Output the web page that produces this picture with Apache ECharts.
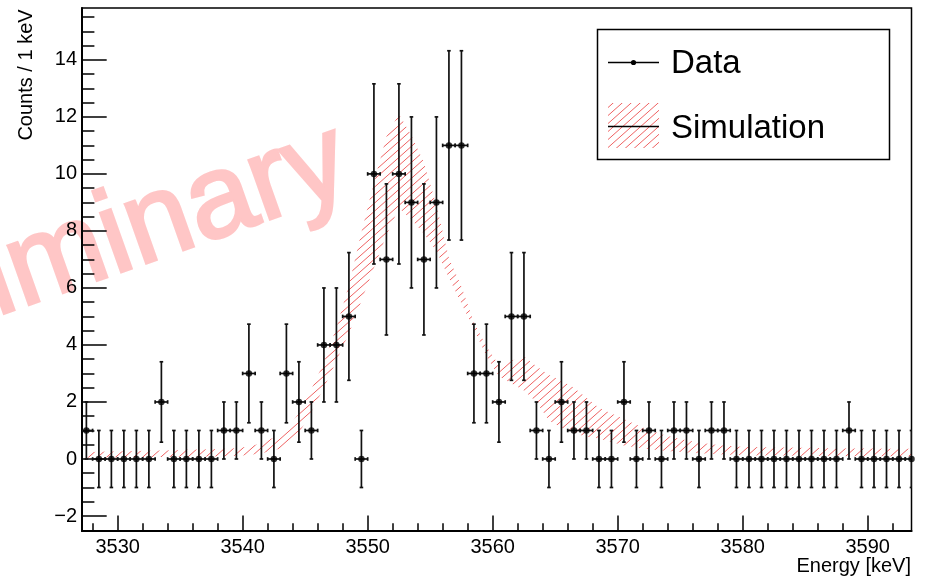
<!DOCTYPE html>
<html><head><meta charset="utf-8">
<script src="https://cdn.jsdelivr.net/npm/echarts@6/dist/echarts.min.js"></script>
<style>html,body{margin:0;padding:0;background:#fff}#c{width:926px;height:577px}</style>
</head><body><div id="c"></div>
<script>
// ---------------- data ----------------
const binCenters = [3527.5,3528.5,3529.5,3530.5,3531.5,3532.5,3533.5,3534.5,3535.5,3536.5,
  3537.5,3538.5,3539.5,3540.5,3541.5,3542.5,3543.5,3544.5,3545.5,3546.5,
  3547.5,3548.5,3549.5,3550.5,3551.5,3552.5,3553.5,3554.5,3555.5,3556.5,
  3557.5,3558.5,3559.5,3560.5,3561.5,3562.5,3563.5,3564.5,3565.5,3566.5,
  3567.5,3568.5,3569.5,3570.5,3571.5,3572.5,3573.5,3574.5,3575.5,3576.5,
  3577.5,3578.5,3579.5,3580.5,3581.5,3582.5,3583.5,3584.5,3585.5,3586.5,
  3587.5,3588.5,3589.5,3590.5,3591.5,3592.5,3593.5];
const counts = [1,0,0,0,0,0,2,0,0,0,
  0,1,1,3,1,0,3,2,1,4,
  4,5,0,10,7,10,9,7,9,11,
  11,3,3,2,5,5,1,0,2,1,
  1,0,0,2,0,1,0,1,1,0,
  1,1,0,0,0,0,0,0,0,0,
  0,1,0,0,0,0,0];
const countErrors = [1,1,1,1,1,1,1.41,1,1,1,
  1,1,1,1.73,1,1,1.73,1.41,1,2,
  2,2.24,1,3.16,2.65,3.16,3,2.65,3,3.32,
  3.32,1.73,1.73,1.41,2.24,2.24,1,1,1.41,1,
  1,1,1,1.41,1,1,1,1,1,1,
  1,1,1,1,1,1,1,1,1,1,
  1,1,1,1,1,1,1];
const simLow = [0.04,0.05,0.05,0.06,0.06,0.07,0.07,0.08,0.08,0.09,
  0.09,0.10,0.11,0.14,0.20,0.30,0.45,0.90,1.65,2.50,
  3.45,4.40,5.55,6.70,7.85,8.80,8.40,7.90,7.30,6.35,
  5.45,4.55,3.60,2.90,2.65,2.40,2.00,1.35,1.10,0.90,
  0.78,0.72,0.60,0.47,0.40,0.35,0.30,0.26,0.23,0.20,
  0.18,0.16,0.14,0.13,0.12,0.12,0.12,0.11,0.11,0.11,
  0.11,0.10,0.10,0.10,0.10,0.10,0.10];
const simHigh = [0.24,0.25,0.26,0.27,0.28,0.29,0.30,0.31,0.32,0.33,
  0.34,0.36,0.38,0.44,0.55,0.75,1.05,1.60,2.45,3.40,
  4.60,6.10,7.95,9.70,11.30,12.10,11.35,10.40,8.90,7.05,
  6.05,4.80,3.95,3.30,3.45,3.60,3.25,2.95,2.75,2.50,
  2.15,1.80,1.60,1.40,1.20,1.02,0.87,0.75,0.66,0.58,
  0.52,0.47,0.44,0.42,0.41,0.40,0.40,0.39,0.39,0.38,
  0.38,0.37,0.37,0.37,0.36,0.36,0.36];
const xMajorTicks = [3530,3540,3550,3560,3570,3580,3590];
const yMajorTicks = [-2,0,2,4,6,8,10,12,14];
const legendLabels = ['Data','Simulation'];
const xTitle = 'Energy [keV]';
const yTitle = 'Counts / 1 keV';
const watermark = 'Preliminary';

// ---------------- helpers ----------------
const FONT = '"Liberation Sans", Arial, Helvetica, sans-serif';
const X_MIN = 3527.15, X_MAX = 3593.5, Y_MIN = -2.526, Y_MAX = 15.82;
const xMinorTicks = []; for (let v = 3528; v <= 3593; v += 2) xMinorTicks.push(v);
const yMinorTicks = []; for (let v = -2.5; v <= 15.5; v += 0.5) yMinorTicks.push(v);

function makeHatch(w, h, color, lw) {
  const cv = document.createElement('canvas'); cv.width = w; cv.height = h;
  const ctx = cv.getContext('2d');
  ctx.strokeStyle = color; ctx.lineWidth = lw;
  ctx.beginPath();
  for (const k of [-1, 0, 1]) {
    ctx.moveTo(k * w - 0.2 * w, h + 0.2 * h);
    ctx.lineTo(k * w + 1.2 * w, -0.2 * h);
  }
  ctx.stroke();
  return cv;
}
const hatchCanvas = makeHatch(9, 8, 'rgba(235,70,70,0.85)', 1);
const hatchFill = { image: hatchCanvas, repeat: 'repeat' };

const chart = echarts.init(document.getElementById('c'), null, { renderer: 'canvas' });

const axisLineX = { show: true, onZero: false, lineStyle: { color: '#000', width: 2 } };
const noLine = { show: false, onZero: false };

const option = {
  animation: false,
  backgroundColor: '#fff',
  grid: { left: 82, right: 14.5, top: 8, bottom: 46, show: true, borderColor: '#000', borderWidth: 1.5, backgroundColor: 'transparent' },
  xAxis: [
    { type: 'value', min: X_MIN, max: X_MAX, position: 'bottom',
      axisLine: axisLineX,
      splitLine: { show: false },
      axisTick: { show: true, inside: true, length: 15.5, customValues: xMajorTicks, lineStyle: { color: '#000', width: 1.5 } },
      axisLabel: { show: true, customValues: xMajorTicks, margin: 6, color: '#000', fontSize: 20, fontFamily: FONT,
        formatter: v => String(v) } },
    { type: 'value', min: X_MIN, max: X_MAX, position: 'bottom', gridIndex: 0,
      axisLine: noLine, splitLine: { show: false }, axisLabel: { show: false },
      axisTick: { show: true, inside: true, length: 7.8, customValues: xMinorTicks, lineStyle: { color: '#000', width: 1.5 } } }
  ],
  yAxis: [
    { type: 'value', min: Y_MIN, max: Y_MAX, position: 'left',
      axisLine: axisLineX,
      splitLine: { show: false },
      axisTick: { show: true, inside: true, length: 24.7, customValues: yMajorTicks, lineStyle: { color: '#000', width: 1.5 } },
      axisLabel: { show: true, customValues: yMajorTicks, margin: 5, color: '#000', fontSize: 20, fontFamily: FONT,
        formatter: v => (v < 0 ? '\u2212' + Math.abs(v) : String(v)) } },
    { type: 'value', min: Y_MIN, max: Y_MAX, position: 'left', gridIndex: 0,
      axisLine: noLine, splitLine: { show: false }, axisLabel: { show: false },
      axisTick: { show: true, inside: true, length: 12.4, customValues: yMinorTicks, lineStyle: { color: '#000', width: 1.5 } } }
  ],
  graphic: [
    { type: 'text', z: -10, x: 364, y: 214, rotation: 19.5 * Math.PI / 180,
      style: { text: watermark, fill: '#ffc6c6', stroke: '#ffc6c6', lineWidth: 3, font: '118px ' + FONT, textAlign: 'right', textVerticalAlign: 'bottom' } },
    { type: 'text', x: 26, y: 75, rotation: Math.PI / 2,
      style: { text: yTitle, fill: '#000', font: '20px ' + FONT, textAlign: 'center', textVerticalAlign: 'middle' } },
    { type: 'text', x: 911, y: 566,
      style: { text: xTitle, fill: '#000', font: '20px ' + FONT, textAlign: 'right', textVerticalAlign: 'middle' } },
    { type: 'group', z: 100, children: [
      { type: 'rect', shape: { x: 597.5, y: 29.5, width: 292, height: 130 }, style: { fill: '#fff', stroke: '#000', lineWidth: 1.5 } },
      { type: 'line', shape: { x1: 608, y1: 62.5, x2: 659, y2: 62.5 }, style: { stroke: '#000', lineWidth: 1.5 } },
      { type: 'circle', shape: { cx: 633.5, cy: 62.5, r: 2.6 }, style: { fill: '#000' } },
      { type: 'text', x: 671, y: 64, style: { text: legendLabels[0], fill: '#000', font: '33px ' + FONT, textVerticalAlign: 'middle' } },
      { type: 'rect', shape: { x: 608, y: 103, width: 51, height: 45 }, style: { fill: hatchFill, stroke: null } },
      { type: 'line', shape: { x1: 608, y1: 126.5, x2: 659, y2: 126.5 }, style: { stroke: '#000', lineWidth: 1.5 } },
      { type: 'text', x: 671, y: 129, style: { text: legendLabels[1], fill: '#000', font: '33px ' + FONT, textVerticalAlign: 'middle' } }
    ] }
  ],
  series: [
    { type: 'custom', name: 'Simulation', xAxisIndex: 0, yAxisIndex: 0, clip: true, z: 1,
      data: binCenters.map((x, i) => [x, simLow[i], simHigh[i]]),
      encode: { x: 0, y: [1, 2] },
      renderItem(params, api) {
        if (params.dataIndex !== 0) return null;
        const pts = [];
        for (let i = 0; i < binCenters.length; i++) pts.push(api.coord([binCenters[i], simHigh[i]]));
        for (let i = binCenters.length - 1; i >= 0; i--) pts.push(api.coord([binCenters[i], simLow[i]]));
        return { type: 'polygon', shape: { points: pts }, style: { fill: hatchFill, stroke: null } };
      } },
    { type: 'custom', name: 'Data', xAxisIndex: 0, yAxisIndex: 0, clip: true, z: 3,
      data: binCenters.map((x, i) => [x, counts[i], countErrors[i]]),
      encode: { x: 0, y: 1 },
      renderItem(params, api) {
        const x = api.value(0), y = api.value(1), e = api.value(2);
        const c = api.coord([x, y]);
        const t = api.coord([x, y + e]), b = api.coord([x, y - e]);
        const l = api.coord([x - 0.5, y]), r = api.coord([x + 0.5, y]);
        const cap = 1.8, st = { stroke: '#111', lineWidth: 1.7 };
        return { type: 'group', children: [
          { type: 'line', shape: { x1: c[0], y1: t[1], x2: c[0], y2: b[1] }, style: st },
          { type: 'line', shape: { x1: c[0] - cap, y1: t[1], x2: c[0] + cap, y2: t[1] }, style: st },
          { type: 'line', shape: { x1: c[0] - cap, y1: b[1], x2: c[0] + cap, y2: b[1] }, style: st },
          { type: 'line', shape: { x1: l[0], y1: c[1], x2: r[0], y2: c[1] }, style: st },
          { type: 'line', shape: { x1: l[0], y1: c[1] - cap, x2: l[0], y2: c[1] + cap }, style: st },
          { type: 'line', shape: { x1: r[0], y1: c[1] - cap, x2: r[0], y2: c[1] + cap }, style: st }
        ] };
      } },
    { type: 'scatter', name: 'Data markers', xAxisIndex: 0, yAxisIndex: 0, z: 4, clip: true,
      symbol: 'circle', symbolSize: 6.5, itemStyle: { color: '#000' },
      data: binCenters.map((x, i) => [x, counts[i]]) }
  ]
};
chart.setOption(option);
</script>
</body></html>
